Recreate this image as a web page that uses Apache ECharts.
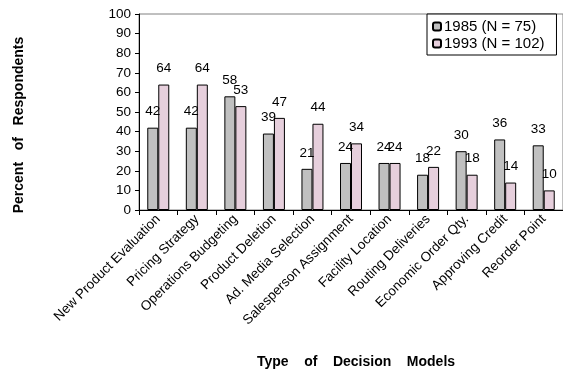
<!DOCTYPE html>
<html><head><meta charset="utf-8">
<script src="https://cdn.jsdelivr.net/npm/echarts@6/dist/echarts.min.js"></script>
<style>html,body{margin:0;padding:0;background:#fff}#c{width:563px;height:373px}</style>
</head><body><div id="c"></div>
<script>
const categories = ['New Product Evaluation','Pricing Strategy','Operations Budgeting','Product Deletion','Ad. Media Selection','Salesperson Assignment','Facility Location','Routing Deliveries','Economic Order Qty.','Approving Credit','Reorder Point'];
const values1985 = [42,42,58,39,21,24,24,18,30,36,33];
const values1993 = [64,64,53,47,44,34,24,22,18,14,10];
const seriesNames = ['1985 (N = 75)','1993 (N = 102)'];
const yTicks = {min:0, max:100, interval:10};
const FONT = 'Liberation Sans, Arial, sans-serif';
const FS = 13.5;

const chart = echarts.init(document.getElementById('c'), null, {renderer:'canvas'});
const lbl = {show:true, position:'top', distance:9, color:'#000', fontSize:FS, fontFamily:FONT};
chart.setOption({
  animation:false,
  textStyle:{fontFamily:FONT},
  grid:{left:139, top:14, width:430, height:196, show:true, borderColor:'#808080', borderWidth:1},
  legend:{
    orient:'vertical', left:427, top:14, padding:[5,12,4,5], itemGap:2,
    itemWidth:8, itemHeight:8, borderColor:'#000', borderWidth:1, backgroundColor:'#fff',
    textStyle:{fontSize:15, color:'#000', fontFamily:FONT, padding:[0,0,0,-2]},
    data:seriesNames
  },
  xAxis:{
    type:'category', data:categories,
    axisLine:{lineStyle:{color:'#000'}},
    axisTick:{show:true, alignWithLabel:false, length:5, lineStyle:{color:'#000'}},
    axisLabel:{rotate:45, interval:0, margin:7, fontSize:FS, color:'#000', fontFamily:FONT}
  },
  yAxis:{
    type:'value', min:yTicks.min, max:yTicks.max, interval:yTicks.interval,
    splitLine:{show:false},
    axisLine:{show:true, lineStyle:{color:'#000'}},
    axisTick:{show:true, length:4, lineStyle:{color:'#000'}},
    axisLabel:{fontSize:FS, color:'#000', margin:8, fontFamily:FONT}
  },
  graphic:[
    {type:'text', position:[356,362], style:{text:'Type    of    Decision    Models', font:'bold 14px '+FONT, fill:'#000', textAlign:'center', textVerticalAlign:'middle'}},
    {type:'text', rotation:Math.PI/2, position:[19,125], style:{text:'Percent   of   Respondents', font:'bold 14px '+FONT, fill:'#000', textAlign:'center', textVerticalAlign:'middle'}}
  ],
  series:[
    {name:seriesNames[0], type:'bar', data:values1985, barWidth:11, barGap:'0%',
     itemStyle:{color:'#c0c0c0', borderColor:'#000', borderWidth:1}, label:lbl},
    {name:seriesNames[1], type:'bar', data:values1993, barWidth:11,
     itemStyle:{color:'#e6cfdc', borderColor:'#000', borderWidth:1}, label:lbl}
  ]
});
</script></body></html>
